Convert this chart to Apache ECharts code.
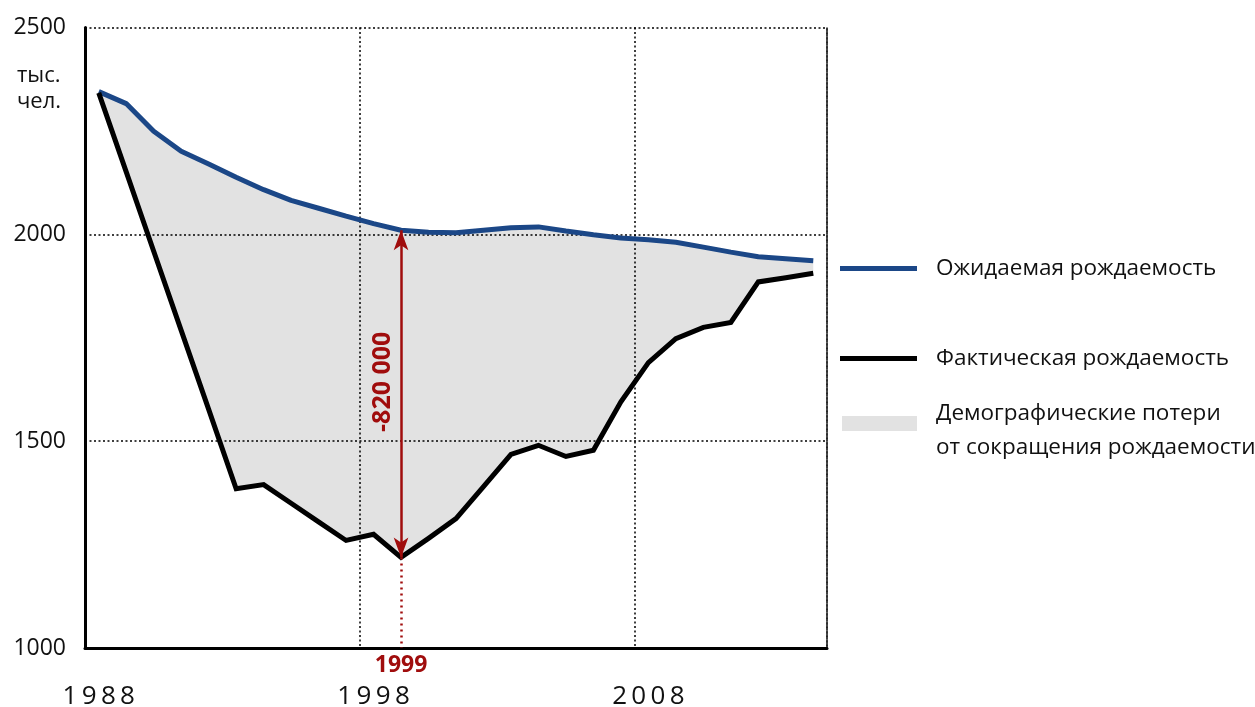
<!DOCTYPE html>
<html>
<head>
<meta charset="utf-8">
<script src="https://cdn.jsdelivr.net/npm/echarts@6/dist/echarts.min.js"></script>
<style>
  html, body { margin: 0; padding: 0; background: #fff; }
  #chart { width: 1255px; height: 707px; }
</style>
</head>
<body>
<div id="chart"></div>
<script>
// годы (по категориям, точки стоят в середине года)
var years = ['1988','1989','1990','1991','1992','1993','1994','1995','1996','1997',
             '1998','1999','2000','2001','2002','2003','2004','2005','2006','2007',
             '2008','2009','2010','2011','2012','2013','2014'];
// ожидаемая рождаемость, тыс. чел.
var expected = [2345, 2316, 2249, 2201, 2170, 2138, 2108, 2082, 2063, 2044,
                2026, 2010, 2005, 2004, 2010, 2016, 2018, 2008, 1999, 1991,
                1987, 1981, 1969, 1957, 1946, 1941, 1936];
// фактическая рождаемость, тыс. чел.
var actual = [2342, 2151, 1959, 1768, 1577, 1385, 1395, 1350, 1305, 1260,
              1275, 1219, 1265, 1313, 1390, 1468, 1490, 1463, 1478, 1595,
              1690, 1748, 1775, 1787, 1885, 1895, 1906];
var yTicks = [1000, 1500, 2000, 2500];
var markYear = '1999';
var lossLabel = '-820 000';

var names = ['Ожидаемая рождаемость', 'Фактическая рождаемость',
             'Демографические потери\nот сокращения рождаемости'];

var loss = expected.map(function (v, i) { return v - actual[i]; });
var mi = years.indexOf(markYear);
var red = '#a00d0d';
var grey = 'rgba(0,0,0,0.115)';
var font = "'Open Sans', 'Noto Sans', sans-serif";

var myChart = echarts.init(document.getElementById('chart'));
var dotted = { color: '#000', width: 1.5, type: [2, 2.5] };

var option = {
    animation: false,
    textStyle: { fontFamily: font },
    title: {
        text: 'тыс.\nчел.',
        left: 17,
        top: 63,
        padding: 0,
        textStyle: { fontSize: 22, fontWeight: 'normal', color: '#111', lineHeight: 26 }
    },
    grid: { left: 85, right: 428, top: 27.5, bottom: 59, outerBoundsMode: 'none' },
    legend: [
        {
            data: [names[0]], left: 840, top: 257, icon: 'rect',
            itemWidth: 77, itemHeight: 5, padding: 0,
            textStyle: { fontSize: 22.5, color: '#111', padding: [0, 0, 0, 14] }
        },
        {
            data: [names[1]], left: 840, top: 347, icon: 'rect',
            itemWidth: 77, itemHeight: 5, padding: 0,
            textStyle: { fontSize: 22.5, color: '#111', padding: [0, 0, 0, 14] }
        },
        {
            data: [names[2]], left: 842, top: 384.5, icon: 'rect',
            itemWidth: 75, itemHeight: 15, padding: 0,
            formatter: function (n) {
                var p = n.split('\n');
                return '{s| }\n{t|' + p[0] + '}\n{t|' + p[1] + '}';
            },
            textStyle: {
                color: '#111', padding: [0, 0, 0, 14],
                rich: {
                    s: { fontSize: 10, lineHeight: 14 },
                    t: { fontSize: 22.5, lineHeight: 34, color: '#111' }
                }
            }
        }
    ],
    xAxis: {
        type: 'category',
        data: years,
        boundaryGap: true,
        axisLine: { lineStyle: { color: '#000', width: 3 } },
        axisTick: { interval: 9, length: 8, lineStyle: { color: '#000', width: 1.5 } },
        axisLabel: {
            interval: 9, margin: 36, fontSize: 26, color: '#111',
            formatter: function (v) { return v.split('').join('\u2009'); }
        },
        splitLine: { show: true, interval: 9, lineStyle: dotted }
    },
    yAxis: [
        {
            type: 'value',
            min: 1000, max: 2500, interval: 500,
            axisLine: { show: true, lineStyle: { color: '#000', width: 3 } },
            axisTick: { show: false },
            axisLabel: {
                fontSize: 23, color: '#111', margin: 19,
                formatter: function (v) { return String(v); }
            },
            splitLine: { show: true, lineStyle: dotted }
        },
        {
            type: 'value', position: 'right',
            min: 1000, max: 2500, interval: 500,
            axisLine: { show: true, lineStyle: dotted },
            axisTick: { show: false },
            axisLabel: { show: false },
            splitLine: { show: false }
        }
    ],
    series: [
        {
            name: 'base', type: 'line', stack: 'loss', data: actual,
            symbol: 'none', silent: true,
            lineStyle: { opacity: 0 },
            markLine: {
                silent: true, symbol: 'none',
                lineStyle: { color: red, width: 2.5, type: [2, 4] },
                label: {
                    show: true, position: 'end', formatter: markYear,
                    color: red, fontSize: 23, fontWeight: 'bold', distance: 6
                },
                data: [[{ xAxis: mi, yAxis: actual[mi] }, { xAxis: mi, yAxis: yTicks[0] }]]
            }
        },
        {
            name: names[2], type: 'line', stack: 'loss', data: loss,
            symbol: 'none', silent: true,
            itemStyle: { color: grey },
            lineStyle: { width: 0, opacity: 0 },
            areaStyle: { color: grey, opacity: 1 }
        },
        {
            name: names[0], type: 'line', data: expected,
            symbol: 'none',
            itemStyle: { color: '#1b4787' },
            lineStyle: { color: '#1b4787', width: 5 }
        },
        {
            name: names[1], type: 'line', data: actual,
            symbol: 'none',
            itemStyle: { color: '#000' },
            lineStyle: { color: '#000', width: 5, join: 'miter' },
            markLine: {
                silent: true,
                symbol: ['arrow', 'arrow'],
                symbolSize: [11, 20],
                lineStyle: { color: red, width: 2.5, type: 'solid' },
                label: {
                    show: true, position: 'middle', formatter: lossLabel,
                    color: red, fontSize: 25, fontWeight: 'bold', distance: 6,
                    padding: [0, 0, 0, 24]
                },
                data: [[{ xAxis: mi, yAxis: actual[mi] }, { xAxis: mi, yAxis: expected[mi] }]]
            }
        }
    ]
};

myChart.setOption(option);
window.addEventListener('resize', function () {
    myChart.resize();
});
</script>
</body>
</html>
